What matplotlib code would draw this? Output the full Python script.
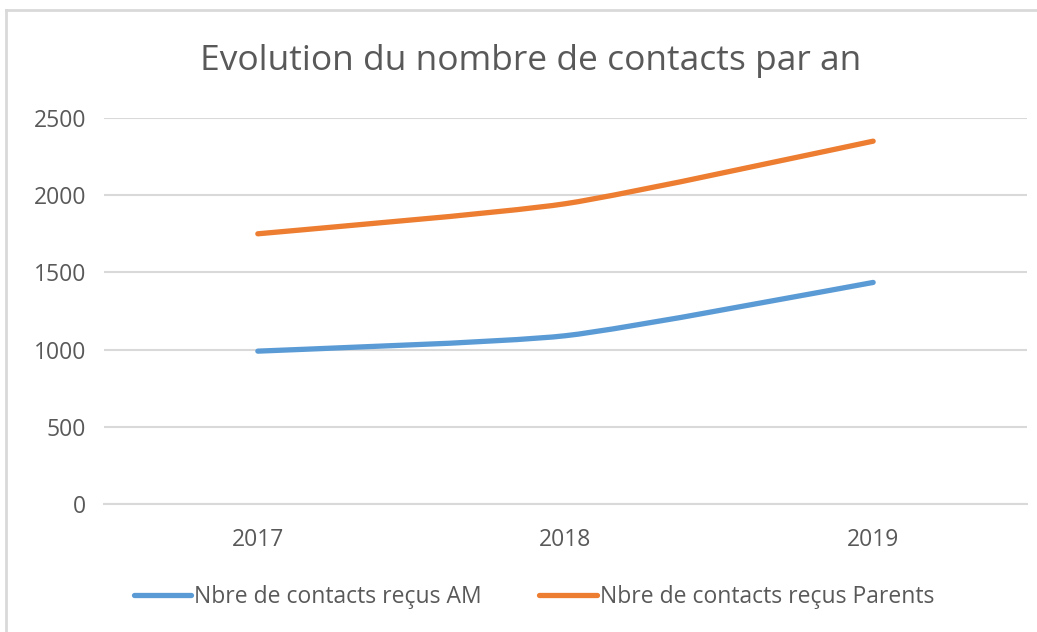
import matplotlib
matplotlib.use("Agg")
import matplotlib.pyplot as plt
from matplotlib.path import Path
from matplotlib.patches import PathPatch
from matplotlib.lines import Line2D

years = ["2017", "2018", "2019"]
am_values = [990, 1090, 1435]
parents_values = [1750, 1945, 2350]
series_labels = ["Nbre de contacts reçus AM", "Nbre de contacts reçus Parents"]
series_colors = ["#5B9BD5", "#ED7D31"]
yticks = [0, 500, 1000, 1500, 2000, 2500]
title = "Evolution du nombre de contacts par an"

plt.rcParams['font.family'] = ['Open Sans', 'DejaVu Sans']

W, H = 1037, 632
fig = plt.figure(figsize=(W / 100, H / 100), dpi=100)
ax = fig.add_axes([104 / W, 1 - 504 / H, (1027 - 104) / W, (504 - 118) / H])


def smooth_path(xs, ys, k=10):
    pts = list(zip(xs, ys))
    n = len(pts)
    verts = [pts[0]]
    codes = [Path.MOVETO]
    for i in range(n - 1):
        p0 = pts[i - 1] if i > 0 else pts[i]
        p1 = pts[i]
        p2 = pts[i + 1]
        p3 = pts[i + 2] if i + 2 < n else pts[i + 1]
        c1 = (p1[0] + (p2[0] - p0[0]) / k, p1[1] + (p2[1] - p0[1]) / k)
        c2 = (p2[0] - (p3[0] - p1[0]) / k, p2[1] - (p3[1] - p1[1]) / k)
        verts += [c1, c2, p2]
        codes += [Path.CURVE4] * 3
    return Path(verts, codes)


xpos = list(range(len(years)))
for vals, color in zip([am_values, parents_values], series_colors):
    patch = PathPatch(smooth_path(xpos, vals), facecolor="none", edgecolor=color,
                      linewidth=3.8, capstyle="round", joinstyle="round", zorder=3)
    ax.add_patch(patch)

ax.set_xlim(-0.5, len(years) - 0.5)
ax.set_ylim(0, 2500)
ax.set_yticks(yticks)
ax.set_yticklabels([str(v) for v in yticks])
ax.set_xticks(xpos)
ax.set_xticklabels(years)
ax.grid(axis="y", color="#D9D9D9", linewidth=1.5)
ax.set_axisbelow(True)
for s in ax.spines.values():
    s.set_visible(False)
ax.spines["bottom"].set_visible(True)
ax.spines["bottom"].set_color("#D9D9D9")
ax.spines["bottom"].set_linewidth(1.5)
ax.tick_params(axis="both", length=0, labelsize=16.5, labelcolor="#595959")
ax.tick_params(axis="y", pad=13)
ax.tick_params(axis="x", pad=17)

fig.text(531 / W, 1 - 61 / H, title, ha="center", va="center", fontsize=25.5, color="#595959")

handles = [Line2D([], [], color=c, linewidth=3.8, solid_capstyle="round") for c in series_colors]
fig.legend(handles, series_labels, loc="center", bbox_to_anchor=(534 / W, 1 - 597 / H),
           ncol=2, frameon=False, fontsize=16.5, labelcolor="#595959",
           handlelength=2.5, handletextpad=0.15, columnspacing=2.5)

# chart border
fig.add_artist(Line2D([6 / W, 6 / W], [0, 1 - 10 / H], color="#D9D9D9", linewidth=2, transform=fig.transFigure))
fig.add_artist(Line2D([6 / W, 1], [1 - 10 / H, 1 - 10 / H], color="#D9D9D9", linewidth=2, transform=fig.transFigure))

fig.savefig("out.png", dpi=100)
